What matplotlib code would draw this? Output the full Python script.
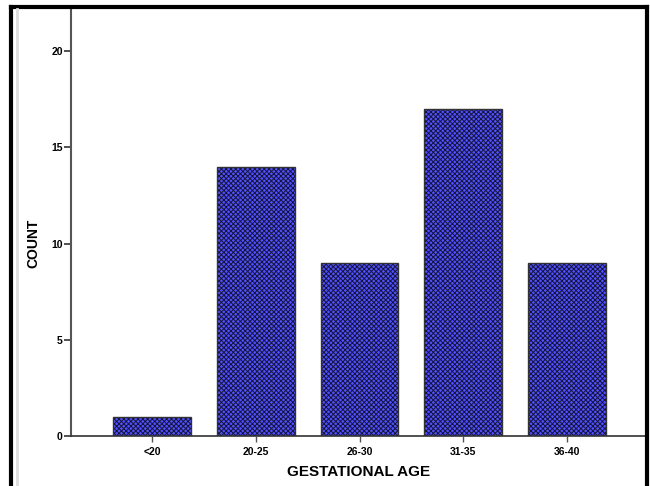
import matplotlib
matplotlib.use('Agg')
from matplotlib import pyplot as plt
from matplotlib.lines import Line2D

categories = ['<20', '20-25', '26-30', '31-35', '36-40']
counts = [1, 14, 9, 17, 9]
yticks = [0, 5, 10, 15, 20]

plt.rcParams['font.family'] = ['Liberation Sans', 'DejaVu Sans']
plt.rcParams['hatch.linewidth'] = 0.7

fig = plt.figure(figsize=(6.5, 4.86), dpi=100)
ax = fig.add_axes([71/650, 1 - 436/486, (646 - 71)/650, (436 - 7)/486])

x = list(range(len(categories)))
ax.bar(x, counts, width=0.75, color='#5050ff', edgecolor='#14143c',
       hatch='xxxxxxx', linewidth=0, zorder=2)
ax.bar(x, counts, width=0.75, fill=False, edgecolor='#333333',
       linewidth=1.0, zorder=3)

ax.set_xlim(-0.78, 4.76)
ax.set_ylim(0, 22.3)
ax.set_xticks(x)
ax.set_xticklabels(categories, fontsize=7.5, fontweight='bold')
ax.set_yticks(yticks)
ax.set_yticklabels([str(t) for t in yticks], fontsize=7.5, fontweight='bold')
ax.tick_params(axis='y', length=5, width=1.2, color='#333333', pad=1)
ax.tick_params(axis='x', length=4, width=1, color='#555555', pad=4)

for side in ['top', 'right']:
    ax.spines[side].set_visible(False)
ax.spines['left'].set_color('#555555')
ax.spines['left'].set_linewidth(1.5)
ax.spines['bottom'].set_color('#333333')
ax.spines['bottom'].set_linewidth(1.2)

ax.set_xlabel('GESTATIONAL AGE', fontsize=11, fontweight='bold', labelpad=6)
fig.text(33/650, 1 - 243/486, 'COUNT', rotation=90, fontsize=10,
         fontweight='bold', ha='center', va='center')

# outer frame
fig.add_artist(Line2D([11/650, 11/650], [0, 1 - 7/486], color='black', lw=3, transform=fig.transFigure))
fig.add_artist(Line2D([647/650, 647/650], [0, 1 - 7/486], color='black', lw=3, transform=fig.transFigure))
fig.add_artist(Line2D([11/650, 647/650], [1 - 7/486, 1 - 7/486], color='black', lw=3, transform=fig.transFigure))
fig.add_artist(Line2D([17/650, 17/650], [0, 1 - 9/486], color='#dddddd', lw=2, transform=fig.transFigure))

plt.savefig('out.png', dpi=100)
